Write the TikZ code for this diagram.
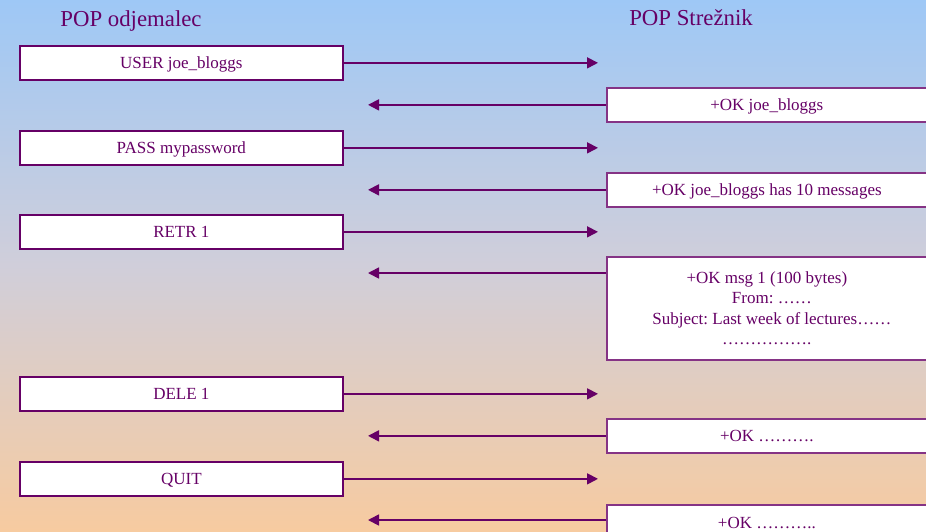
\documentclass[tikz,border=0pt]{standalone}
\usepackage{fontspec}
\setmainfont{Liberation Serif}
\frenchspacing
\usetikzlibrary{arrows.meta}
\definecolor{plum}{HTML}{660066}
\definecolor{skytop}{RGB}{158,200,246}
\definecolor{skymid}{RGB}{208,206,218}
\definecolor{peachbot}{RGB}{247,203,160}
\tikzset{
  x=1pt, y=-1pt,
  msgbox/.style={draw=plum, line width=1.7pt, fill=white, text=plum,
    font=\fontsize{17}{20.5}\selectfont, inner sep=0pt, anchor=north west,
    text height=14pt, text depth=3pt},
  srvbox/.style={msgbox, draw=plum!80},
  flow/.style={draw=plum, line width=1.7pt, -{Triangle[length=11pt,width=11pt]}},
  title/.style={text=plum, font=\fontsize{22.8}{26}\selectfont, anchor=base},
}
\begin{document}
\begin{tikzpicture}
% background gradient
\shade[top color=skytop, bottom color=peachbot, middle color=skymid]
  (0,0) rectangle (926,531);
\useasboundingbox (0,0) rectangle (926,531);

\node[title] (cli) at (131,26) {POP odjemalec};
\node[title] (srv) at (691,25) {POP Strežnik};

% client requests
\node[msgbox, minimum width=323pt, minimum height=34pt] (user) at (19,45) {USER joe\_bloggs};
\node[msgbox, minimum width=323pt, minimum height=34pt] (pass) at (19,130) {PASS mypassword};
\node[msgbox, minimum width=323pt, minimum height=34pt] (retr) at (19,214) {RETR 1};
\node[msgbox, minimum width=323pt, minimum height=34pt] (dele) at (19,376) {DELE 1};
\node[msgbox, minimum width=323pt, minimum height=34pt] (quit) at (19,461) {QUIT};

% server responses
\node[srvbox, minimum width=330pt, minimum height=34pt] (ok1) at (606,87) {\hspace*{-10pt}+OK joe\_bloggs};
\node[srvbox, minimum width=330pt, minimum height=34pt] (ok2) at (606,172) {\hspace*{-10pt}+OK joe\_bloggs has 10 messages};
\node[srvbox, minimum width=330pt, minimum height=103pt, align=center,
      text height=, text depth=] (ok3) at (606,256)
  {+OK msg 1 (100 bytes)\hspace*{10pt}\\From: ……\hspace*{10pt}\\Subject: Last week of lectures……\hspace*{10pt}\\…………….\hspace*{10pt}};
\node[srvbox, minimum width=330pt, minimum height=34pt] (ok4) at (606,418) {\hspace*{-10pt}+OK ……….};
\node[srvbox, minimum width=330pt, minimum height=36pt] (ok5) at (606,504) {\hspace*{-10pt}+OK ………..};

% x positions where the arrows stop
\coordinate (rx) at (598,0);
\coordinate (lx) at (368,0);
\coordinate (l3) at (368,273);
\coordinate (l5) at (368,520);

\draw[flow] (user.east) -- (user.east -| rx);
\draw[flow] (pass.east) -- (pass.east -| rx);
\draw[flow] (retr.east) -- (retr.east -| rx);
\draw[flow] (dele.east) -- (dele.east -| rx);
\draw[flow] (quit.east) -- (quit.east -| rx);

\draw[flow] (ok1.west) -- (ok1.west -| lx);
\draw[flow] (ok2.west) -- (ok2.west -| lx);
\draw[flow] (ok3.west |- l3) -- (l3);
\draw[flow] (ok4.west) -- (ok4.west -| lx);
\draw[flow] (ok5.west |- l5) -- (l5);
\end{tikzpicture}
\end{document}
